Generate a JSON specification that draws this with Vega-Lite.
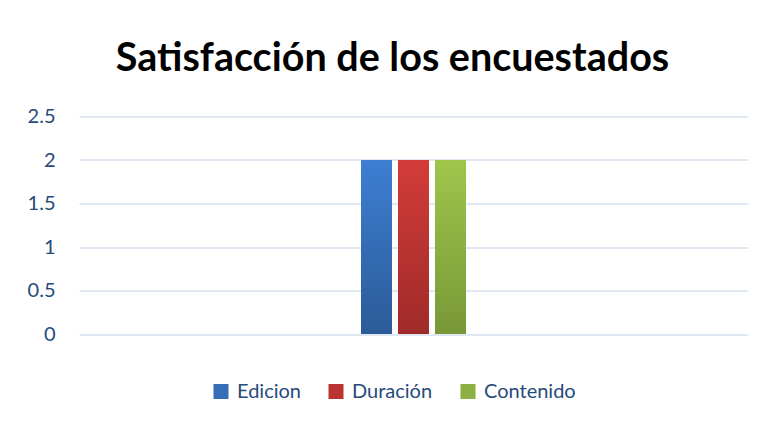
{
  "$schema": "https://vega.github.io/schema/vega-lite/v6.json",
  "width": 669,
  "height": 217.5,
  "autosize": {"type": "none"},
  "padding": {"left": 79, "top": 116.5, "right": 17, "bottom": 87},
  "background": "white",
  "title": {
    "text": "Satisfacción de los encuestados",
    "font": "Lato",
    "fontSize": 39.5,
    "fontWeight": "bold",
    "color": "#000000",
    "anchor": "middle",
    "dx": -21,
    "offset": 27
  },
  "data": {
    "values": [
      {"grupo": "Encuesta", "serie": "Edicion", "valor": 2},
      {"grupo": "Encuesta", "serie": "Duración", "valor": 2},
      {"grupo": "Encuesta", "serie": "Contenido", "valor": 2}
    ]
  },
  "encoding": {
    "x": {
      "field": "grupo",
      "type": "nominal",
      "scale": {"paddingInner": 0.6277, "paddingOuter": 1},
      "axis": null
    },
    "xOffset": {
      "field": "serie",
      "type": "nominal",
      "sort": ["Edicion", "Duración", "Contenido"],
      "scale": {"domain": ["Edicion", "Duración", "Contenido"], "paddingInner": 0.162, "paddingOuter": 0}
    },
    "y": {
      "field": "valor",
      "type": "quantitative",
      "scale": {"domain": [0, 2.5]},
      "axis": {
        "values": [0, 0.5, 1, 1.5, 2, 2.5],
        "format": "~g",
        "title": null,
        "domain": false,
        "ticks": false,
        "labelPadding": 24,
        "labelFont": "Lato",
        "labelFontSize": 20,
        "labelColor": "#264A7A",
        "gridColor": "#D6E0EF",
        "gridWidth": 1.5
      }
    }
  },
  "layer": [
    {
      "mark": {"type": "bar"},
      "encoding": {
        "color": {
          "field": "serie",
          "type": "nominal",
          "sort": ["Edicion", "Duración", "Contenido"],
          "scale": {
            "domain": ["Edicion", "Duración", "Contenido"],
            "range": ["#356DB8", "#BB3431", "#8CB042"]
          },
          "legend": {
            "orient": "none",
            "direction": "horizontal",
            "legendX": 132,
            "legendY": 265,
            "title": null,
            "symbolType": "square",
            "symbolSize": 225,
            "symbolStrokeWidth": 0,
            "symbolOpacity": 1,
            "labelFont": "Lato",
            "labelFontSize": 20,
            "labelColor": "#264A7A",
            "labelOffset": 6,
            "columnPadding": 25
          }
        }
      }
    },
    {
      "transform": [{"filter": "datum.serie === 'Edicion'"}],
      "mark": {"type": "bar", "color": {"gradient": "linear", "x1": 0, "y1": 0, "x2": 0, "y2": 1, "stops": [{"offset": 0, "color": "#3D7FD3"}, {"offset": 1, "color": "#2C5B98"}]}}
    },
    {
      "transform": [{"filter": "datum.serie === 'Duración'"}],
      "mark": {"type": "bar", "color": {"gradient": "linear", "x1": 0, "y1": 0, "x2": 0, "y2": 1, "stops": [{"offset": 0, "color": "#D33C38"}, {"offset": 1, "color": "#9F2B29"}]}}
    },
    {
      "transform": [{"filter": "datum.serie === 'Contenido'"}],
      "mark": {"type": "bar", "color": {"gradient": "linear", "x1": 0, "y1": 0, "x2": 0, "y2": 1, "stops": [{"offset": 0, "color": "#9EC64B"}, {"offset": 1, "color": "#789837"}]}}
    }
  ],
  "config": {"view": {"stroke": null}}
}
